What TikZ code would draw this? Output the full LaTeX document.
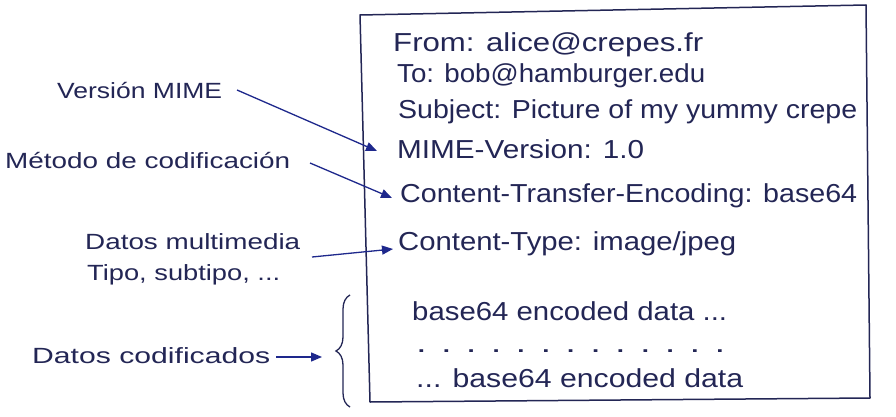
\documentclass[tikz,border=0pt]{standalone}
\usepackage{fontspec}
\usepackage{graphicx}
\setmainfont{Liberation Sans}
\usetikzlibrary{arrows.meta,decorations.pathreplacing}
\definecolor{ink}{RGB}{35,38,85}
\definecolor{pen}{RGB}{30,40,140}
\newcommand{\hw}[2]{\resizebox{#1}{\height}{#2}}
\begin{document}
\begin{tikzpicture}[x=1pt,y=-1pt,
  boxtxt/.style={anchor=base west, inner sep=0pt, text=ink, font=\fontsize{26}{30}\selectfont},
  lbl/.style={anchor=base west, inner sep=0pt, text=ink, font=\fontsize{22}{26}\selectfont},
  frame/.style={draw=ink, line width=1.5pt, line join=round},
  pointer/.style={draw=pen, line width=1.3pt, -{Triangle[length=11pt,width=9pt]}},
  bracestyle/.style={draw=ink, line width=1.3pt, decorate, decoration={brace, amplitude=14pt}},
]
\useasboundingbox (0,0) rectangle (896,417);
\fill[white] (0,0) rectangle (896,417);

% message frame
\draw[frame] (360,15) -- (866,5) -- (870,398) -- (370,402) -- cycle;

% message lines
\node[boxtxt] (from) at (393,52)  {\hw{310pt}{From: alice@crepes.fr}};
\node[boxtxt] (to)   at (397,83)  {\hw{308pt}{To: bob@hamburger.edu}};
\node[boxtxt] (subj) at (398,118) {\hw{459pt}{Subject: Picture of my yummy crepe}};
\node[boxtxt] (mime) at (397,158) {\hw{247pt}{MIME-Version: 1.0}};
\node[boxtxt] (cte)  at (400,202) {\hw{457pt}{Content-Transfer-Encoding: base64}};
\node[boxtxt] (ct)   at (398,250) {\hw{338pt}{Content-Type: image/jpeg}};
\node[boxtxt] (d1)   at (412,320) {\hw{315pt}{base64 encoded data ...}};
\node[boxtxt] (d2)   at (416,352) {\hw{309pt}{. . . . . . . . . . . . .}};
\node[boxtxt] (d3)   at (416,387) {\hw{327pt}{... base64 encoded data}};

% left labels
\node[lbl] (vm) at (57,99)  {\hw{165pt}{Versión MIME}};
\node[lbl] (mc) at (5,168)  {\hw{285pt}{Método de codificación}};
\node[lbl] (dm) at (85,249) {\hw{215pt}{Datos multimedia}};
\node[lbl] (ts) at (87,280) {\hw{193pt}{Tipo, subtipo, ...}};
\node[lbl] (dc) at (32,363) {\hw{238pt}{Datos codificados}};

% arrow ends
\coordinate (vmS) at (237,90);
\coordinate (vmT) at (377,151);
\coordinate (mcS) at (310,163);
\coordinate (mcT) at (392,198);
\coordinate (dmS) at (312,257);
\coordinate (dmT) at (393,249);
\coordinate (dcS) at (276,357);
\coordinate (dcT) at (322,357);
\coordinate (brB) at (350,407);
\coordinate (brT) at (350,295);

\draw[pointer] (vmS) -- (vmT);
\draw[pointer] (mcS) -- (mcT);
\draw[pointer] (dmS) -- (dmT);
\draw[pointer] (dcS) -- (dcT);
\draw[bracestyle] (brB) -- (brT);
\end{tikzpicture}
\end{document}
